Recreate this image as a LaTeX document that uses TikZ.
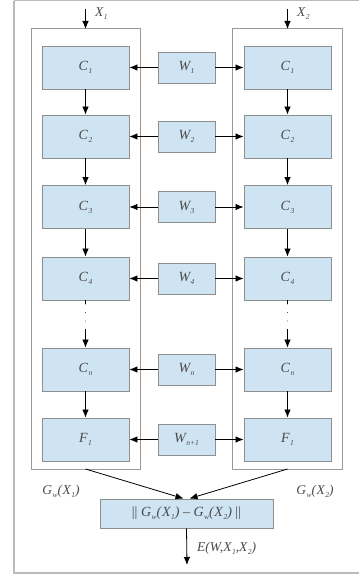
\documentclass[tikz,border=0pt]{standalone}
\usepackage{fontspec}
\setmainfont{Liberation Serif}
\usetikzlibrary{arrows.meta}
\definecolor{boxfill}{HTML}{CFE4F3}
\definecolor{boxline}{HTML}{8E8E8E}
\definecolor{netline}{HTML}{9A9A9A}
\definecolor{frameline}{HTML}{BBBBBB}
\definecolor{txt}{HTML}{4A4A4A}
% italic symbol with a small, lowered index
\newcommand\sym[2]{\textit{#1\kern0.5pt\lower3pt\hbox{\fontsize{7.5}{8}\selectfont #2}}}
\tikzset{
  cell/.style={draw=boxline, fill=boxfill, line width=0.9pt, minimum width=87pt,
    minimum height=43pt, inner sep=0pt, text=txt, font=\fontsize{14}{16}\selectfont},
  wcell/.style={cell, minimum width=57pt, minimum height=31pt},
  net/.style={draw=netline, line width=1pt},
  arr/.style={-{Latex[length=8pt,width=6.5pt]}, line width=0.8pt, black},
  lbl/.style={text=txt, font=\fontsize{13.5}{15}\selectfont, inner sep=0pt},
  dots/.style={line width=0.9pt, line cap=round, dash pattern=on 0pt off 8.5pt}
}
\begin{document}
\begin{tikzpicture}[x=1pt,y=-1pt]
\useasboundingbox (0,0) rectangle (358,577);
% outer frame
\draw[frameline, line width=1.2pt] (14,0.8) -- (14,573) -- (362,573);
\draw[frameline, line width=1.2pt] (14,0.8) -- (362,0.8);
% the two networks
\draw[net] (31,29) rectangle (140,469);
\draw[net] (232,29) rectangle (342,469);
\coordinate (inL) at (85.5,9);
\coordinate (inR) at (287.5,9);
\coordinate (topL) at (85.5,29);
\coordinate (topR) at (287.5,29);
\coordinate (botL) at (85.5,469);
\coordinate (botR) at (287.5,469);
% rows of layers
\foreach \n/\y/\c/\i/\w in {1/67.5/C/1/1, 2/136.5/C/2/2, 3/207/C/3/3, 4/278.5/C/4/4, 5/369.5/C/n/n, 6/439.5/F/1/n+1}{
  \node[cell] (L\n) at (85.5,\y) {\sym{\c}{\i}};
  \node[cell] (R\n) at (287.5,\y) {\sym{\c}{\i}};
  \node[wcell] (W\n) at (186.5,\y) {\sym{W}{\w}};
  \draw[arr] (W\n.west) -- (L\n.east);
  \draw[arr] (W\n.east) -- (R\n.west);
}
% vertical flow
\foreach \a/\b in {1/2,2/3,3/4,5/6}{
  \draw[arr] (L\a.south) -- (L\b.north);
  \draw[arr] (R\a.south) -- (R\b.north);
}
\coordinate (dL) at (85.5,329);
\coordinate (dR) at (287.5,329);
\coordinate (sL) at (85.5,304);
\coordinate (sR) at (287.5,304);
\draw[dots] (sL) -- (dL);
\draw[dots] (sR) -- (dR);
\draw[line width=0.8pt] (L4.south) -- (sL);
\draw[line width=0.8pt] (R4.south) -- (sR);
\draw[arr] (dL) -- (L5.north);
\draw[arr] (dR) -- (R5.north);
% inputs
\draw[arr] (inL) -- (topL);
\draw[arr] (inR) -- (topR);
\node[lbl, anchor=west] (xl) at (95,14) {\sym{X}{1}};
\node[lbl, anchor=west] (xr) at (297,14) {\sym{X}{2}};
% distance
\node[cell, minimum width=173pt, minimum height=29pt] (D) at (186.5,513.5)
  {|| \sym{G}{w}\textit{(}\sym{X}{1}\textit{)} -- \sym{G}{w}\textit{(}\sym{X}{2}\textit{)} ||};
\draw[arr] (botL) -- ([xshift=-3pt]D.north);
\draw[arr] (botR) -- ([xshift=3pt]D.north);
\node[lbl] (gl) at (61,491) {\sym{G}{w}\textit{(}\sym{X}{1}\textit{)}};
\node[lbl] (gr) at (315,491) {\sym{G}{w}\textit{(}\sym{X}{2}\textit{)}};
\coordinate (out) at (187,565);
\draw[arr] (D.south) -- (out);
\node[lbl, anchor=west] (E) at (197,548) {\textit{E(W,}\sym{X}{1}\textit{,}\sym{X}{2}\textit{)}};
\end{tikzpicture}
\end{document}
